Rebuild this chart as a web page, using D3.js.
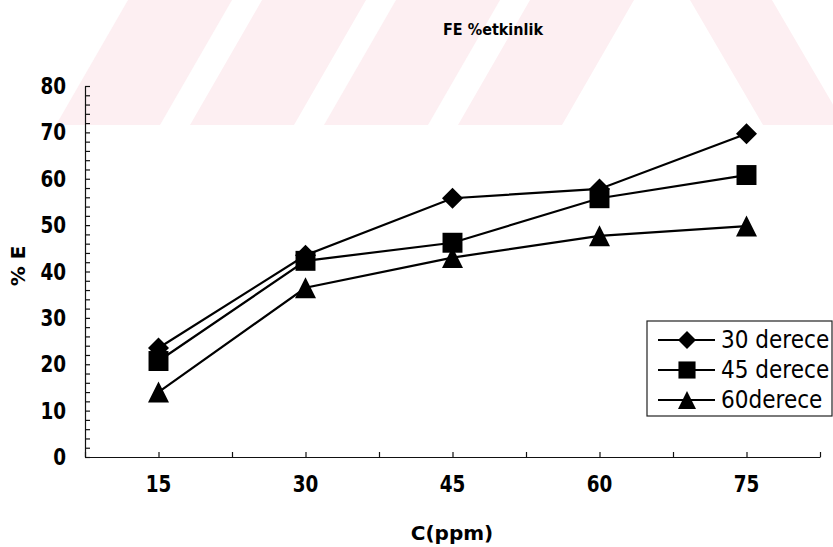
<!DOCTYPE html>
<html>
<head>
<meta charset="utf-8">
<script src="https://cdn.jsdelivr.net/npm/d3@7"></script>
<style>
  html, body { margin: 0; padding: 0; background: #fff; }
  svg { display: block; }
  text { font-family: "DejaVu Sans", Verdana, sans-serif; fill: #000; }
</style>
</head>
<body>
<svg id="chart" width="833" height="547"></svg>
<script>
// ---- data ----
const categories = [15, 30, 45, 60, 75];
const seriesNames = ["30 derece", "45 derece", "60derece"];
const values30 = [23.5, 43.5, 55.8, 57.8, 69.7];
const values45 = [20.7, 42.3, 46.2, 55.8, 60.8];
const values60 = [14.0, 36.5, 43.0, 47.7, 49.8];
const yTickLabels = [0, 10, 20, 30, 40, 50, 60, 70, 80];
const chartTitle = "FE %etkinlik";
const xTitle = "C(ppm)";
const yTitle = "% E";

const series = [
  { name: seriesNames[0], values: values30, shape: "diamond" },
  { name: seriesNames[1], values: values45, shape: "square" },
  { name: seriesNames[2], values: values60, shape: "triangle" }
];

const svg = d3.select("#chart");

// ---- faint watermark in the background ----
const wm = svg.append("g").attr("fill", "#fdeff2");
const stripeStarts = [56, 190, 324, 458];
stripeStarts.forEach(s => {
  wm.append("path").attr("d", `M${s},125 L${s + 104},125 L${s + 176},0 L${s + 72},0 Z`);
});
wm.append("path").attr("d", "M690,0 L772,0 L845,125 L763,125 Z");

// ---- scales ----
const x = d3.scaleLinear().domain([7.5, 82.5]).range([85, 820]);
const y = d3.scaleLinear().domain([0, 80]).range([457, 86]);

// ---- axes ----
const xAxis = d3.axisBottom(x)
  .tickValues(d3.range(7.5, 83, 7.5))
  .tickSizeInner(-5).tickSizeOuter(0)
  .tickFormat("");
const gx = svg.append("g").attr("transform", `translate(0,${y(0)})`).call(xAxis);
gx.select(".domain").attr("stroke", "#111").attr("stroke-width", 1.2);
gx.selectAll(".tick line").attr("stroke", "#111").attr("stroke-width", 1.2);

const yAxis = d3.axisLeft(y)
  .tickValues(d3.range(0, 81, 2))
  .tickSizeInner(-5).tickSizeOuter(0)
  .tickFormat("");
const gy = svg.append("g").attr("transform", `translate(${x(7.5)},0)`).call(yAxis);
gy.select(".domain").attr("stroke", "#111").attr("stroke-width", 1.2);
gy.selectAll(".tick line").attr("stroke", "#111").attr("stroke-width", 1.2);

// tick labels (slightly condensed, like the original Tahoma lettering)
svg.append("g").selectAll("text").data(categories).join("text")
  .attr("transform", d => `translate(${x(d)},492) scale(0.8,1)`)
  .attr("text-anchor", "middle")
  .attr("font-size", 23).attr("font-weight", "bold")
  .text(d => d);

svg.append("g").selectAll("text").data(yTickLabels).join("text")
  .attr("transform", d => `translate(66,${y(d) + 8}) scale(0.8,1)`)
  .attr("text-anchor", "end")
  .attr("font-size", 23).attr("font-weight", "bold")
  .text(d => d);

// titles
svg.append("text").attr("transform", "translate(493,35) scale(0.9,1)")
  .attr("text-anchor", "middle").attr("font-size", 16).attr("font-weight", "bold")
  .text(chartTitle);
svg.append("text").attr("x", 452).attr("y", 540)
  .attr("text-anchor", "middle").attr("font-size", 20).attr("font-weight", "bold")
  .text(xTitle);
svg.append("text")
  .attr("transform", "translate(25,266) rotate(-90)")
  .attr("text-anchor", "middle").attr("font-size", 20).attr("font-weight", "bold")
  .text(yTitle);

// ---- marker shapes ----
function markerPath(shape, s) {
  const p = d3.path();
  const h = s / 2;
  if (shape === "diamond") {
    p.moveTo(0, -h); p.lineTo(h, 0); p.lineTo(0, h); p.lineTo(-h, 0); p.closePath();
  } else if (shape === "square") {
    p.rect(-h * 0.95, -h * 0.95, h * 1.9, h * 1.9);
  } else {
    p.moveTo(0, -h); p.lineTo(h, h); p.lineTo(-h, h); p.closePath();
  }
  return p.toString();
}

// ---- lines ----
const line = d3.line().x((d, i) => x(categories[i])).y(d => y(d));
const plot = svg.append("g");
series.forEach(s => {
  plot.append("path").datum(s.values)
    .attr("d", line).attr("fill", "none")
    .attr("stroke", "#000").attr("stroke-width", 2.2);
});
series.forEach(s => {
  plot.append("g").selectAll("path").data(s.values).join("path")
    .attr("transform", (d, i) => `translate(${x(categories[i])},${y(d)})`)
    .attr("d", markerPath(s.shape, 21))
    .attr("fill", "#000");
});

// ---- legend ----
const legend = svg.append("g").attr("transform", "translate(647,321)");
legend.append("rect").attr("x", 0).attr("y", 0).attr("width", 185).attr("height", 95)
  .attr("fill", "#fff").attr("stroke", "#222").attr("stroke-width", 1.2);
series.forEach((s, i) => {
  const cy = 19 + i * 30;
  const row = legend.append("g").attr("transform", `translate(0,${cy})`);
  row.append("line").attr("x1", 11).attr("x2", 68).attr("y1", 0).attr("y2", 0)
    .attr("stroke", "#000").attr("stroke-width", 2);
  row.append("path").attr("transform", "translate(40,0)")
    .attr("d", markerPath(s.shape, 18)).attr("fill", "#000");
  row.append("text").attr("transform", "translate(74,8) scale(0.9,1)")
    .attr("font-size", 24).text(s.name);
});
</script>
</body>
</html>
